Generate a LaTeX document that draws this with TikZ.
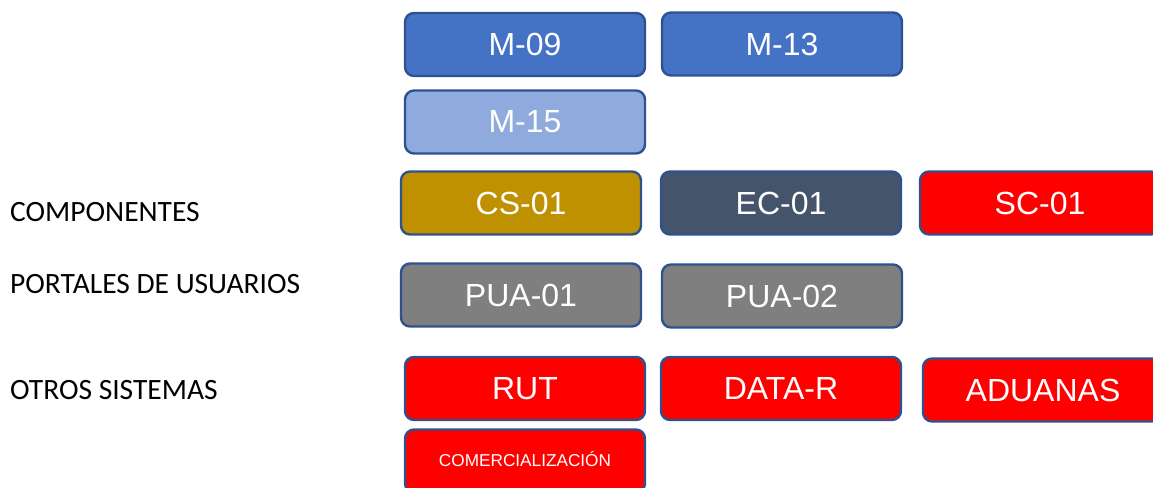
\documentclass[tikz,border=0pt]{standalone}
\usepackage{fontspec}
\setmainfont{Liberation Sans}
\newfontfamily\labfont{Carlito}
\definecolor{bord}{HTML}{2F528F}
\definecolor{mblue}{HTML}{4472C4}
\definecolor{lblue}{HTML}{8FAADC}
\definecolor{gold}{HTML}{BF9000}
\definecolor{slate}{HTML}{44546A}
\definecolor{gry}{HTML}{7F7F7F}
\definecolor{rd}{HTML}{FF0000}
\tikzset{
  bx/.style={draw=bord, line width=2.4pt, rounded corners=9pt, minimum width=240pt, minimum height=63pt, inner sep=0pt, text=white, font=\fontsize{32}{36}\selectfont},
  lab/.style={anchor=west, inner sep=0pt, font=\labfont\fontsize{29.5}{34}\selectfont}
}
\begin{document}
\begin{tikzpicture}[x=1pt,y=1pt]
\useasboundingbox (0,0) rectangle (1153,487);
\clip (0,0) rectangle (1153,487);
\node[bx, fill=mblue] (m09) at (525,442.5) {M-09};
\node[bx, fill=mblue] (m13) at (782,443) {M-13};
\node[bx, fill=lblue] (m15) at (525,365) {M-15};
\node[bx, fill=gold] (cs01) at (521,284) {CS-01};
\node[bx, fill=slate] (ec01) at (781,284) {EC-01};
\node[bx, fill=rd] (sc01) at (1040,284) {SC-01};
\node[bx, fill=gry] (pua01) at (521,192) {PUA-01};
\node[bx, fill=gry] (pua02) at (782,191) {PUA-02};
\node[bx, fill=rd] (rut) at (525,98.5) {RUT};
\node[bx, fill=rd] (datar) at (781,98.5) {DATA-R};
\node[bx, fill=rd] (adu) at (1043,97) {ADUANAS};
\node[bx, fill=rd, font=\fontsize{17.2}{20}\selectfont] (com) at (525,26) {\raisebox{3pt}{COMERCIALIZACIÓN}};
\node[lab] (l1) at (10,275) {COMPONENTES};
\node[lab] (l2) at (10,203) {PORTALES DE USUARIOS};
\node[lab] (l3) at (10,97) {OTROS SISTEMAS};
\end{tikzpicture}
\end{document}
